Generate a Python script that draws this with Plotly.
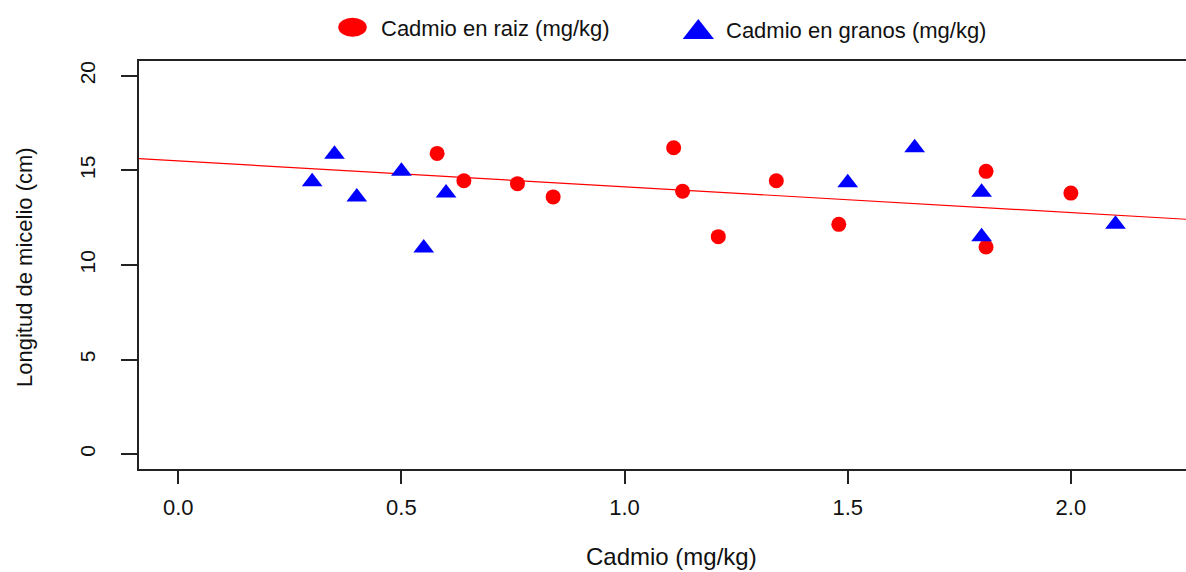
import plotly.graph_objects as go

# ---- data ----
raiz_x = [0.58, 0.64, 0.76, 0.84, 1.11, 1.13, 1.21, 1.34, 1.48, 1.81, 1.81, 2.00]
raiz_y = [15.9, 14.45, 14.3, 13.6, 16.2, 13.9, 11.5, 14.45, 12.15, 14.95, 10.95, 13.8]
granos_x = [0.30, 0.35, 0.40, 0.50, 0.55, 0.60, 1.50, 1.65, 1.80, 1.80, 2.10]
granos_y = [14.4, 15.85, 13.6, 14.95, 10.9, 13.8, 14.35, 16.2, 13.85, 11.5, 12.15]
fit_intercept = 15.50
fit_slope = -1.365

x_ticks = [0.0, 0.5, 1.0, 1.5, 2.0]
x_ticktext = ["0.0", "0.5", "1.0", "1.5", "2.0"]
y_ticks = [0, 5, 10, 15, 20]
y_ticktext = ["0", "5", "10", "15", "20"]

legend_labels = ["Cadmio en raiz (mg/kg)", "Cadmio en granos (mg/kg)"]
x_title = "Cadmio (mg/kg)"
y_title = "Longitud de micelio (cm)"

# ---- layout constants ----
W, H = 1186, 572
FONT = "Liberation Sans, Arial, sans-serif"
INK = "#111111"
x_range = [-0.088, 2.258]
y_range = [-0.8, 20.8]

def px(x):
    return x / W

def py(y):
    return 1 - y / H

fig = go.Figure()

fit_x = [x_range[0] - 0.1, x_range[1] + 0.1]
fig.add_trace(go.Scatter(
    x=fit_x,
    y=[fit_intercept + fit_slope * v for v in fit_x],
    mode="lines", line=dict(color="#ff0000", width=1.2), showlegend=False, hoverinfo="skip",
))
fig.add_trace(go.Scatter(
    x=raiz_x, y=raiz_y, mode="markers", name=legend_labels[0],
    marker=dict(symbol="circle", size=15, color="#ff0000", line=dict(width=0)),
    showlegend=False,
))
fig.add_trace(go.Scatter(
    x=granos_x, y=granos_y, mode="markers", name=legend_labels[1],
    marker=dict(symbol="triangle-up", size=18, color="#0000ff", line=dict(width=0)),
    showlegend=False,
))

axis_common = dict(
    showgrid=False, zeroline=False, showline=True, linecolor="#222222", linewidth=1.5,
    ticks="outside", tickcolor="#222222", tickwidth=1.5,
)
fig.update_xaxes(
    **axis_common, range=x_range, domain=[px(139), 1.0], tickvals=x_ticks, ticktext=x_ticktext,
    ticklen=13, mirror=True, ticklabelstandoff=5,
    tickfont=dict(family=FONT, size=22, color=INK),
)
fig.update_yaxes(
    **axis_common, range=y_range, domain=[py(469.3), py(60.7)], tickvals=y_ticks, ticktext=y_ticktext,
    ticklen=16, tickangle=-90, ticklabelstandoff=18,
    tickfont=dict(family=FONT, size=21, color=INK),
)

annotations = [
    dict(text=x_title, x=px(671), y=py(556), xref="paper", yref="paper", showarrow=False,
         xanchor="center", yanchor="middle", font=dict(family=FONT, size=24, color=INK)),
    dict(text=y_title, x=px(24), y=py(267), xref="paper", yref="paper", showarrow=False,
         xanchor="center", yanchor="middle", textangle=-90, font=dict(family=FONT, size=22, color=INK)),
    dict(text=legend_labels[0], x=px(379), y=py(28), xref="paper", yref="paper", showarrow=False,
         xanchor="left", yanchor="middle", font=dict(family=FONT, size=22, color=INK)),
    dict(text=legend_labels[1], x=px(724), y=py(31), xref="paper", yref="paper", showarrow=False,
         xanchor="left", yanchor="middle", font=dict(family=FONT, size=22, color=INK)),
]

shapes = [
    # legend circle glyph
    dict(type="circle", xref="paper", yref="paper", x0=px(338.3), x1=px(366.7), y0=py(36.7), y1=py(17.7),
         fillcolor="#ff0000", line=dict(width=0)),
    # legend triangle glyph
    dict(type="path", xref="paper", yref="paper",
         path=f"M {px(682.7)},{py(39)} L {px(714)},{py(39)} L {px(698.3)},{py(19)} Z",
         fillcolor="#0000ff", line=dict(width=0)),
]

fig.update_layout(
    width=W, height=H, margin=dict(l=0, r=0, t=0, b=0),
    paper_bgcolor="white", plot_bgcolor="white",
    annotations=annotations, shapes=shapes, showlegend=False,
)

fig.write_html("out.html")
